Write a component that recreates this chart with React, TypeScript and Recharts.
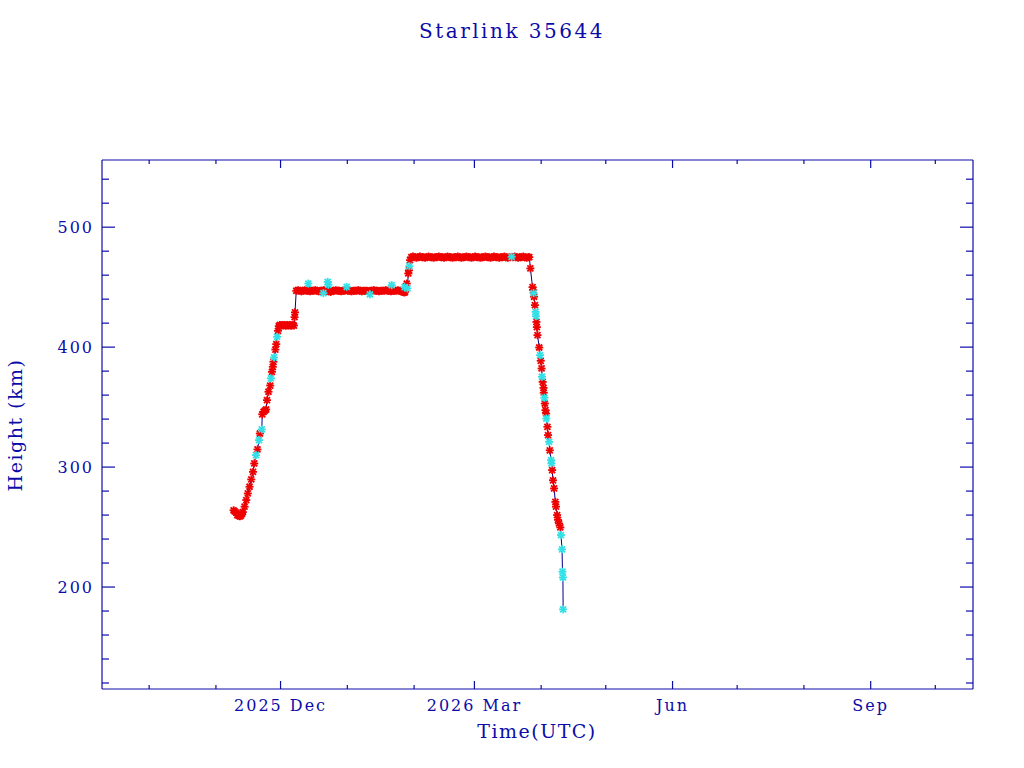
import { ComposedChart, Line, Scatter, XAxis, YAxis } from "recharts";

// x values are days since 2025-12-01 (UTC), heights in km
const chartTitle = "Starlink 35644";
const xAxisTitle = "Time(UTC)";
const yAxisTitle = "Height (km)";

const xTicks = [-61, -30, 0, 31, 62, 90, 121, 151, 182, 212, 243, 274, 304];
const xTickLabels: Record<number, string> = {
  0: "2025 Dec",
  90: "2026 Mar",
  182: "Jun",
  274: "Sep",
};
const yTicks = [
  120, 140, 160, 180, 200, 220, 240, 260, 280, 300, 320, 340, 360, 380, 400,
  420, 440, 460, 480, 500, 520, 540,
];
const yTickLabels = [200, 300, 400, 500];
const xDomain: [number, number] = [-82.9, 321.5];
const yDomain: [number, number] = [115, 556];

// main elset fits (red)
const redPoints: [number, number][] = [
  // orbit raising
  [-21.8, 264], [-21.3, 263], [-20.6, 262], [-20.1, 260], [-19.5, 259.5],
  [-18.9, 259], [-18.4, 259.5], [-17.9, 261], [-17.5, 262.5], [-16.7, 267],
  [-15.9, 272.5], [-15.2, 278], [-14.4, 283.6], [-13.6, 289.7], [-12.8, 296],
  [-12.2, 303], [-10.7, 314.7], [-9.6, 328], [-8.5, 344], [-7.9, 346],
  [-7.3, 347], [-6.7, 348], [-6.3, 355.8], [-5.6, 362.8], [-4.8, 368],
  [-4.0, 379.4], [-3.6, 383.6], [-3.3, 387.8], [-2.4, 398], [-2.0, 402.5],
  [-1.2, 413.6], [-0.8, 417.5],
  // 418 km stop
  [-0.3, 418.5], [0.2, 418], [0.7, 418.5], [1.2, 418], [1.7, 418.5], [2.2, 418],
  [2.7, 418], [3.2, 418.5], [3.7, 418], [4.2, 418.5], [4.7, 418], [5.2, 418],
  [5.7, 418.5], [6.2, 418], [6.5, 425], [6.7, 429],
  // 447 km shell
  [7.3, 447], [8.1, 447.5], [8.9, 447], [9.7, 446.5], [10.5, 447], [11.3, 447.5],
  [12.1, 447], [12.9, 447], [13.7, 446.5], [14.5, 447], [15.3, 447], [16.1, 447.5],
  [16.9, 447], [17.7, 446.5], [18.5, 447], [19.3, 447], [20.1, 447.5], [20.9, 447],
  [21.7, 447], [22.5, 446.5], [23.3, 446], [24.1, 447], [24.9, 447], [25.7, 447.5],
  [26.5, 447], [27.3, 447], [28.1, 446.5], [28.9, 447], [29.7, 447], [30.5, 447.5],
  [31.3, 447], [32.1, 447], [32.9, 446.5], [33.7, 447], [34.5, 447], [35.3, 447],
  [36.1, 447.5], [36.9, 447], [37.7, 446.5], [38.5, 447], [39.3, 447], [40.1, 447],
  [40.9, 446.5], [41.7, 447], [42.5, 447], [43.3, 447.5], [44.1, 447], [44.9, 447],
  [45.7, 446.5], [46.5, 447], [47.3, 447], [48.1, 447], [48.9, 447.5], [49.7, 447],
  [50.5, 447], [51.3, 446.5], [52.1, 447], [52.9, 447], [53.7, 447], [54.5, 447.5],
  [55.3, 447], [56.1, 446.5], [56.9, 446], [57.5, 445.5],
  [57.8, 446], [58.6, 453], [59.3, 461.4], [59.6, 464], [60.1, 472.5],
  // 475 km shell
  [60.7, 475], [61.5, 475.5], [62.3, 475], [63.1, 474.5], [63.9, 475], [64.7, 475.5],
  [65.5, 475], [66.3, 475], [67.1, 474.5], [67.9, 475], [68.7, 475.5], [69.5, 475],
  [70.3, 475], [71.1, 474.5], [71.9, 475], [72.7, 475], [73.5, 475.5], [74.3, 475],
  [75.1, 475], [75.9, 474.5], [76.7, 475], [77.5, 475.5], [78.3, 475], [79.1, 475],
  [79.9, 474.5], [80.7, 475], [81.5, 475], [82.3, 475.5], [83.1, 475], [83.9, 474.5],
  [84.7, 475], [85.5, 475], [86.3, 475.5], [87.1, 475], [87.9, 475], [88.7, 474.5],
  [89.5, 475], [90.3, 475.5], [91.1, 475], [91.9, 475], [92.7, 474.5], [93.5, 475],
  [94.3, 475], [95.1, 475.5], [95.9, 475], [96.7, 475], [97.5, 474.5], [98.3, 475],
  [99.1, 475.5], [99.9, 475], [100.7, 475], [101.5, 474.5], [102.3, 475], [103.1, 475],
  [103.9, 475.5], [104.7, 475], [105.5, 474.5], [106.3, 475], [107.9, 475],
  [108.7, 475.5], [109.5, 475], [110.3, 474.5], [111.1, 475], [111.9, 475],
  [112.7, 475.5], [113.5, 475], [114.3, 474.5], [115.1, 475], [115.5, 475],
  // decay
  [116.0, 465.6], [117.0, 450], [117.3, 447.5], [117.7, 442], [118.1, 435],
  [118.8, 421], [119.0, 416.7], [119.3, 410], [120.1, 399.7], [120.8, 388.6],
  [121.2, 382.2], [121.7, 371], [122.1, 366], [122.2, 362], [122.7, 353],
  [123.0, 347.5], [123.3, 344.7], [123.9, 333.6], [124.2, 326.7], [125.0, 314],
  [126.1, 297.5], [126.5, 289], [127.0, 282.2], [127.6, 271], [127.9, 267],
  [128.4, 260], [128.8, 256], [129.3, 253], [129.9, 249.7],
];

// supplemental fits (cyan)
const cyanPoints: [number, number][] = [
  [-11.4, 310], [-10.0, 322.5], [-8.7, 331.4], [-4.5, 374], [-3.0, 391.4],
  [-1.6, 408.6], [12.9, 453], [19.9, 445], [21.9, 454.4], [22.2, 452],
  [30.7, 450.3], [41.5, 444], [51.6, 451.7], [57.6, 450], [58.9, 449],
  [59.8, 467.5], [107.3, 475.3], [117.5, 445], [118.4, 429.4], [118.6, 425.8],
  [120.5, 393.3], [121.4, 375.3], [122.5, 357.8], [123.4, 340.5], [124.7, 321],
  [125.6, 305.8], [125.8, 303], [130.2, 243.3], [130.7, 231.4], [130.9, 212.8],
  [131.1, 208], [131.2, 181.4],
];

const NAVY = "#0c0ca8";
const FONT = "'DejaVu Serif', serif";

const redData = redPoints.map(([d, h]) => ({ d, h }));
const cyanData = cyanPoints.map(([d, h]) => ({ d, h }));
const trackData = [...redData, ...cyanData].sort((a, b) => a.d - b.d);

const asterisk = (color: string) => (props: any) => {
  const { cx, cy } = props;
  const r = 4;
  const q = 3;
  return (
    <g stroke={color} strokeWidth={1.8}>
      <line x1={cx - r} y1={cy} x2={cx + r} y2={cy} />
      <line x1={cx} y1={cy - r} x2={cx} y2={cy + r} />
      <line x1={cx - q} y1={cy - q} x2={cx + q} y2={cy + q} />
      <line x1={cx - q} y1={cy + q} x2={cx + q} y2={cy - q} />
    </g>
  );
};

const XTick = (side: "bottom" | "top") => (props: any) => {
  const { x, y, payload } = props;
  const label = xTickLabels[payload.value];
  const len = label ? 8 : 4;
  const dir = side === "bottom" ? -1 : 1;
  return (
    <g>
      <line x1={x} y1={y} x2={x} y2={y + dir * len} stroke={NAVY} strokeWidth={1.2} />
      {side === "bottom" && label && (
        <text
          x={x}
          y={y + 22}
          textAnchor="middle"
          fill={NAVY}
          fontFamily={FONT}
          fontSize={16}
          letterSpacing={2}
        >
          {label}
        </text>
      )}
    </g>
  );
};

const YTick = (side: "left" | "right") => (props: any) => {
  const { x, y, payload } = props;
  const major = yTickLabels.includes(payload.value);
  const len = major ? 13 : 7;
  const dir = side === "left" ? 1 : -1;
  return (
    <g>
      <line x1={x} y1={y} x2={x + dir * len} y2={y} stroke={NAVY} strokeWidth={1.2} />
      {side === "left" && major && (
        <text
          x={x - 8}
          y={y}
          dy="0.36em"
          textAnchor="end"
          fill={NAVY}
          fontFamily={FONT}
          fontSize={16}
          letterSpacing={2}
        >
          {payload.value}
        </text>
      )}
    </g>
  );
};

const axisLineStyle = { stroke: NAVY, strokeWidth: 1.2 };

export default function App() {
  return (
    <div style={{ position: "absolute", left: 0, top: 0, width: 1024, height: 768, background: "#fff" }}>
      <ComposedChart
        width={1024}
        height={768}
        margin={{ top: 159, right: 50, bottom: 78, left: 101 }}
      >
        <XAxis
          xAxisId="bottom"
          dataKey="d"
          type="number"
          domain={xDomain}
          allowDataOverflow
          ticks={xTicks}
          interval={0}
          height={1}
          tickSize={0}
          tickMargin={0}
          tickLine={false}
          axisLine={axisLineStyle}
          tick={XTick("bottom")}
        />
        <XAxis
          xAxisId="top"
          orientation="top"
          dataKey="d"
          type="number"
          domain={xDomain}
          allowDataOverflow
          ticks={xTicks}
          interval={0}
          height={1}
          tickSize={0}
          tickMargin={0}
          tickLine={false}
          axisLine={axisLineStyle}
          tick={XTick("top")}
        />
        <YAxis
          yAxisId="left"
          dataKey="h"
          type="number"
          domain={yDomain}
          allowDataOverflow
          ticks={yTicks}
          interval={0}
          width={1}
          tickSize={0}
          tickMargin={0}
          tickLine={false}
          axisLine={axisLineStyle}
          tick={YTick("left")}
        />
        <YAxis
          yAxisId="right"
          orientation="right"
          dataKey="h"
          type="number"
          domain={yDomain}
          allowDataOverflow
          ticks={yTicks}
          interval={0}
          width={1}
          tickSize={0}
          tickMargin={0}
          tickLine={false}
          axisLine={axisLineStyle}
          tick={YTick("right")}
        />
        <Line
          xAxisId="bottom"
          yAxisId="left"
          data={trackData}
          dataKey="h"
          type="linear"
          stroke="#00008b"
          strokeWidth={1}
          dot={false}
          isAnimationActive={false}
        />
        <Scatter
          xAxisId="bottom"
          yAxisId="left"
          data={redData}
          dataKey="h"
          shape={asterisk("#ee0000")}
          isAnimationActive={false}
        />
        <Scatter
          xAxisId="bottom"
          yAxisId="left"
          data={cyanData}
          dataKey="h"
          shape={asterisk("#33e0e6")}
          isAnimationActive={false}
        />
      </ComposedChart>
      <svg
        width={1024}
        height={768}
        style={{ position: "absolute", left: 0, top: 0, pointerEvents: "none" }}
      >
        <text x={512} y={38} textAnchor="middle" fill={NAVY} fontFamily={FONT} fontSize={20} letterSpacing={2.5}>
          {chartTitle}
        </text>
        <text x={537} y={738} textAnchor="middle" fill={NAVY} fontFamily={FONT} fontSize={19} letterSpacing={1.5}>
          {xAxisTitle}
        </text>
        <text
          x={22}
          y={425}
          textAnchor="middle"
          transform="rotate(-90, 22, 425)"
          fill={NAVY}
          fontFamily={FONT}
          fontSize={19}
          letterSpacing={1.5}
        >
          {yAxisTitle}
        </text>
      </svg>
    </div>
  );
}
